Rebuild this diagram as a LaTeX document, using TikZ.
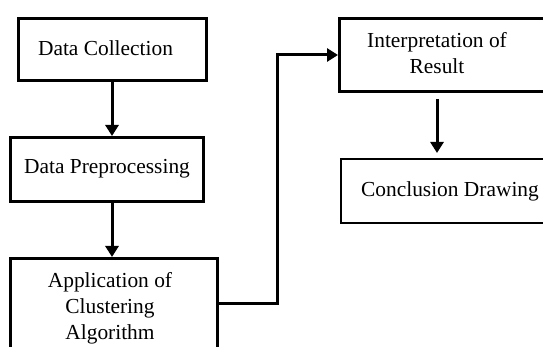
\documentclass[tikz,border=0pt]{standalone}
\usepackage{fontspec}
\setmainfont{Liberation Serif}
\usetikzlibrary{arrows.meta}
\begin{document}
\begin{tikzpicture}[x=1pt,y=-1pt,
  box/.style={draw=black,line width=3pt,rectangle,inner sep=0pt,anchor=north west},
  lbl/.style={font=\fontsize{21.4}{26}\selectfont,align=center,inner sep=0pt},
  arr/.style={line width=3pt,-{Triangle[length=11pt,width=13pt]}},
  link/.style={line width=3pt}]
\clip (0,0) rectangle (543,347);
\fill[white] (0,0) rectangle (543,347);
% boxes
\node[box,minimum width=188pt,minimum height=62pt] (b1) at (17,17) {};
\node[lbl] (t1) at (105.5,48) {Data Collection};
\node[box,minimum width=193pt,minimum height=64pt] (b2) at (9,136) {};
\node[lbl] (t2) at (107,169) {Data Preprocessing};
\node[box,minimum width=207pt,minimum height=102pt] (b3) at (9,257) {};
\node[lbl] (t3) at (110,308) {Application of\\Clustering\\Algorithm};
\node[box,minimum width=230pt,minimum height=73pt] (b4) at (338,17) {};
\node[lbl] (t4) at (437,53.5) {Interpretation of\\Result};
\node[box,line width=2.3pt,minimum width=230pt,minimum height=64pt] (b5) at (340,158) {};
\node[lbl] (t5) at (450,191) {Conclusion Drawing};
% connectors
\coordinate (x1) at (112,0);
\coordinate (x2) at (437,0);
\coordinate (bend) at (277,0);
\draw[arr] (b1.south -| x1) -- (b2.north -| x1);
\draw[arr] (b2.south -| x1) -- (b3.north -| x1);
\draw[arr,shorten <=6pt,shorten >=5pt] (b4.south -| x2) -- (b5.north -| x2);
\coordinate (p1) at (216,303);
\coordinate (p2) at (338,55);
\draw[arr] (b3.east |- p1) -- (bend |- p1) -- (bend |- p2) -- (b4.west |- p2);
\end{tikzpicture}
\end{document}
